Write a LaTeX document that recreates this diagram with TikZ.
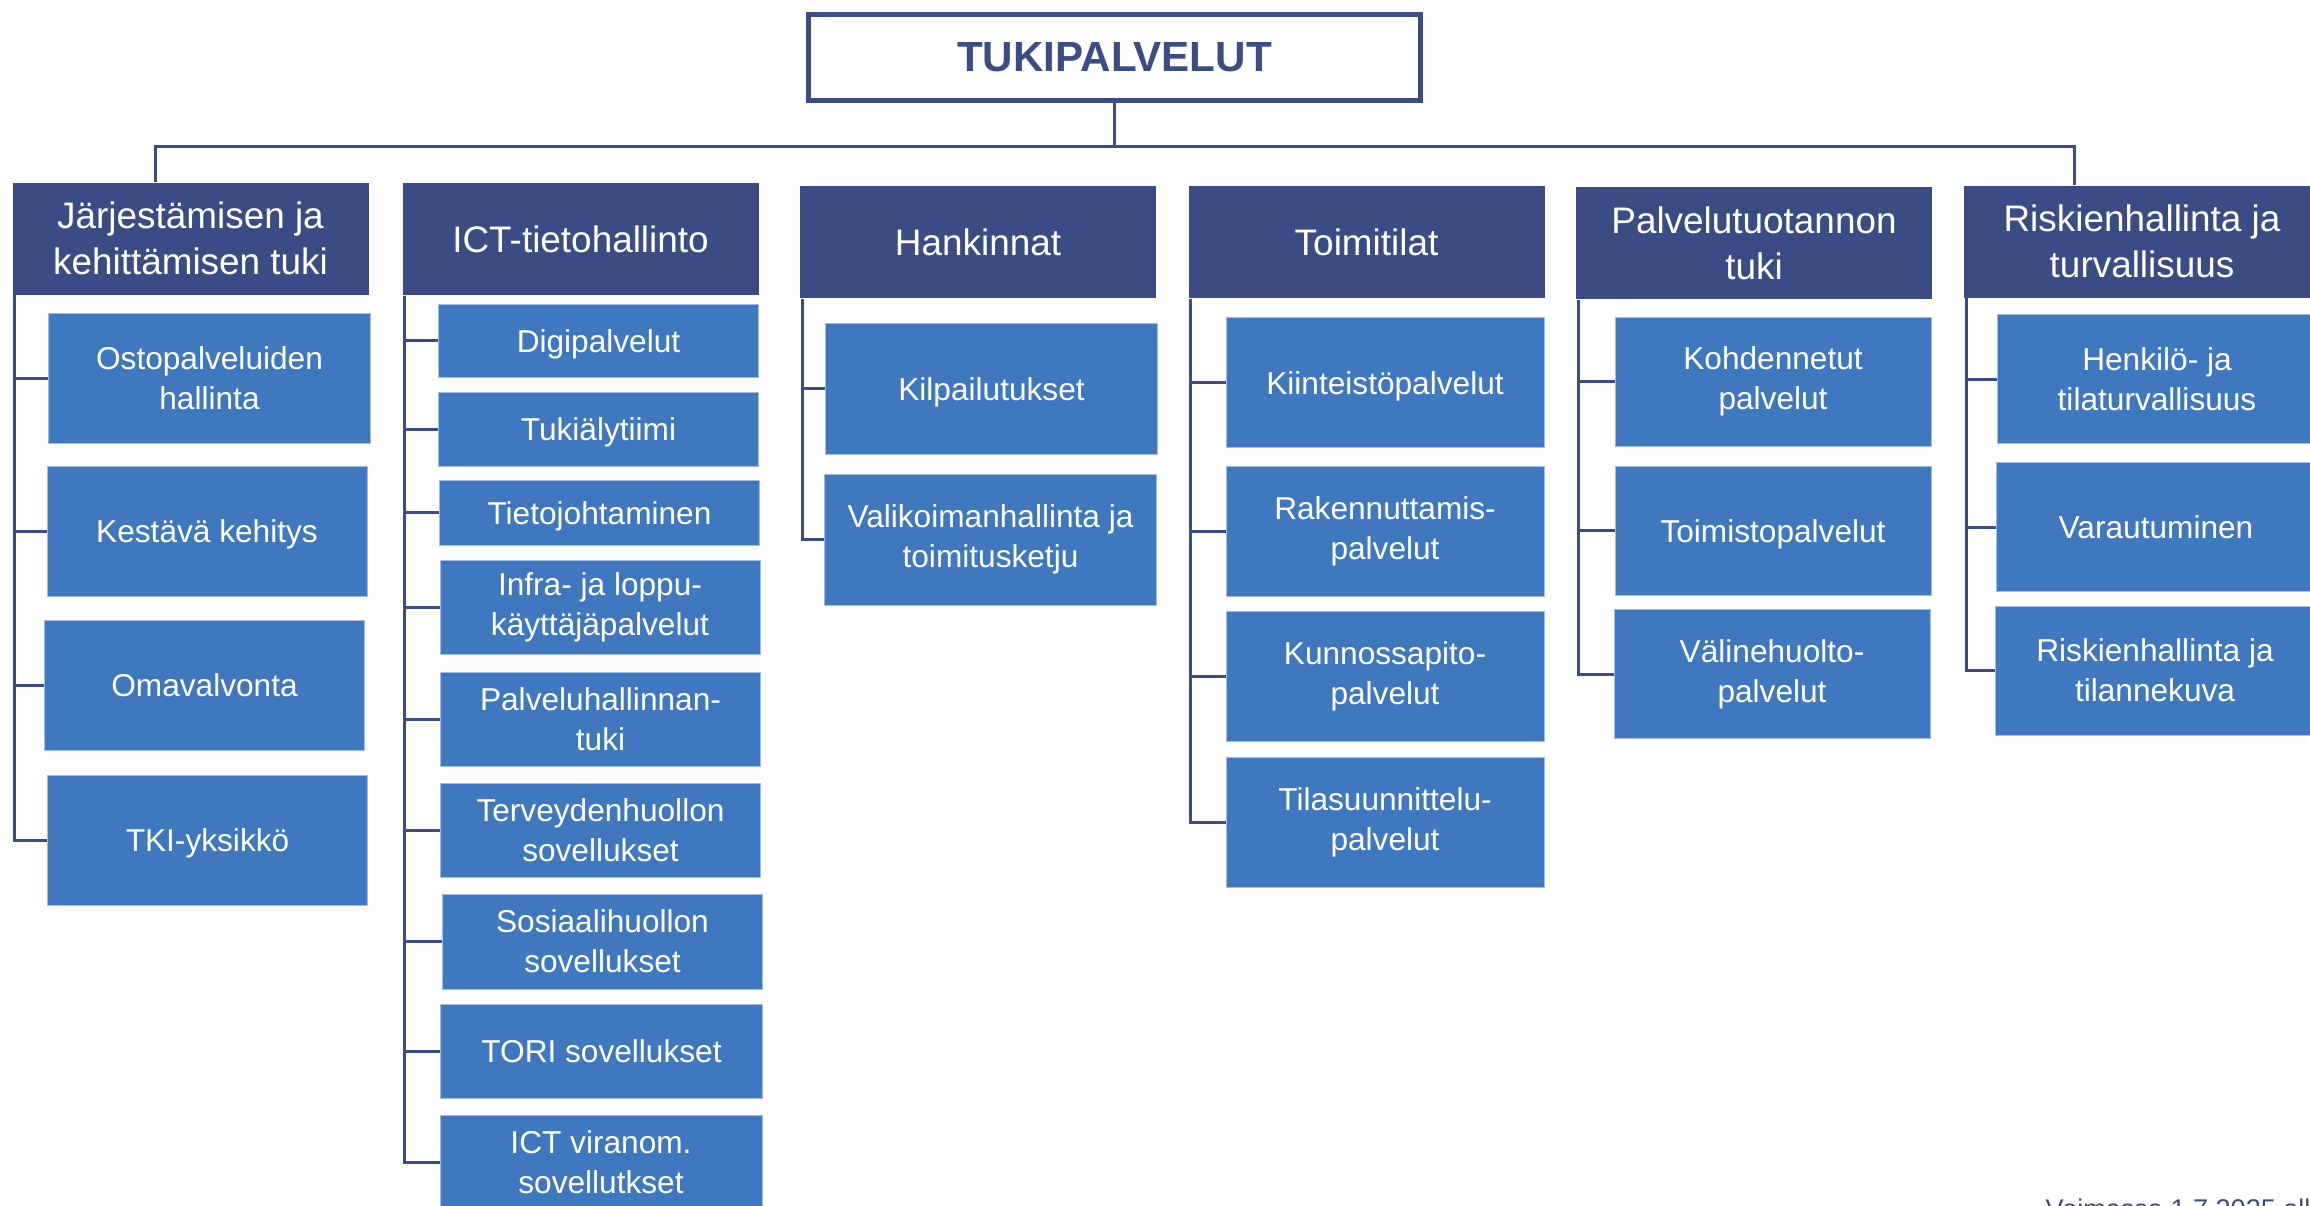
\documentclass[tikz,border=0pt]{standalone}
\usepackage{fontspec}
\setmainfont{Liberation Sans}
\usepackage{tikz}
\usetikzlibrary{calc}
\definecolor{hdrblue}{RGB}{59,75,132}
\definecolor{boxblue}{RGB}{63,120,190}
\definecolor{boxedge}{RGB}{160,188,226}
\definecolor{linecol}{RGB}{59,76,134}

\begin{document}
\begin{tikzpicture}[x=0.1mm, y=-0.1mm,
  conn/.style={draw=linecol, line width=0.3mm},
  topbox/.style={draw=linecol, line width=0.45mm, fill=white, text=linecol, inner sep=0pt,
    minimum width=61.2mm, minimum height=8.6mm, font=\bfseries\fontsize{12}{14}\selectfont},
  hdr/.style={fill=hdrblue, text=white, inner sep=0pt, align=center,
    minimum width=35.6mm, minimum height=11.2mm, font=\fontsize{10.5}{13}\selectfont},
  sub/.style={fill=boxblue, draw=boxedge, line width=0.2pt, text=white, inner sep=0pt, align=center,
    minimum width=32mm, minimum height=13mm, font=\fontsize{9}{11.3}\selectfont},
  oneline/.style={text height=8.6pt, text depth=2pt}]
\useasboundingbox (0,0) rectangle (2310,1205);
\clip (0,0) rectangle (2310,1205);

\node[topbox] (top) at (1114.5,57.5) {TUKIPALVELUT};

% first level
\node[hdr] (h1) at (190.5,238.5) {Järjestämisen ja\\kehittämisen tuki};
\node[hdr] (h2) at (580.5,239) {ICT-tietohallinto};
\node[hdr] (h3) at (978,242) {Hankinnat};
\node[hdr] (h4) at (1366.5,242) {Toimitilat};
\node[hdr] (h5) at (1754,243) {Palvelutuotannon\\tuki};
\node[hdr] (h6) at (2142,241.5) {Riskienhallinta ja\\turvallisuus};

\coordinate (barL) at (155,146);
\coordinate (barR) at (2074,146);
\draw[conn] (top.south) -- (top.south |- barL);
\draw[conn] (h1.north -| barL) -- (barL) -- (barR) -- (h6.north -| barR);

% column 1
\node[sub, minimum width=32.2mm] (c1a) at (209.5,378.5) {Ostopalveluiden\\hallinta};
\node[sub, oneline] (c1b) at (207,531) {Kestävä kehitys};
\node[sub, oneline] (c1c) at (204.5,685) {Omavalvonta};
\node[sub, oneline] (c1d) at (207.5,840) {TKI-yksikkö};

% column 2
\node[sub, oneline, minimum height=7.3mm] (c2a) at (598.5,340.5) {Digipalvelut};
\node[sub, oneline, minimum height=7.4mm] (c2b) at (598.5,429) {Tukiälytiimi};
\node[sub, oneline, minimum height=6.5mm] (c2c) at (599.5,512.5) {Tietojohtaminen};
\node[sub, minimum height=9.4mm] (c2d) at (600,607.5) {Infra- ja loppu-\\käyttäjäpalvelut};
\node[sub, minimum height=9.4mm] (c2e) at (600.5,719) {Palveluhallinnan-\\tuki};
\node[sub, minimum height=9.4mm] (c2f) at (600.5,830.5) {Terveydenhuollon\\sovellukset};
\node[sub, minimum height=9.5mm] (c2g) at (602.5,941.5) {Sosiaalihuollon\\sovellukset};
\node[sub, oneline, minimum height=9.4mm, minimum width=32.2mm] (c2h) at (601.5,1051) {TORI sovellukset};
\node[sub, minimum height=9.4mm, minimum width=32.2mm] (c2i) at (601,1162) {ICT viranom.\\sovellutkset};

% column 3
\node[sub, oneline, minimum width=33.2mm, minimum height=13.1mm] (c3a) at (991.5,388.5) {Kilpailutukset};
\node[sub, minimum width=33.2mm, minimum height=13.1mm] (c3b) at (990.5,539.5) {Valikoimanhallinta ja\\toimitusketju};

% column 4
\node[sub, oneline, minimum width=31.8mm] (c4a) at (1385,382.5) {Kiinteistöpalvelut};
\node[sub, minimum width=31.8mm] (c4b) at (1385,531) {Rakennuttamis-\\palvelut};
\node[sub, minimum width=31.8mm] (c4c) at (1385,676) {Kunnossapito-\\palvelut};
\node[sub, minimum width=31.8mm] (c4d) at (1385,822) {Tilasuunnittelu-\\palvelut};

% column 5
\node[sub, minimum width=31.6mm, minimum height=12.9mm] (c5a) at (1773,381.5) {Kohdennetut\\palvelut};
\node[sub, oneline, minimum width=31.6mm, minimum height=12.9mm] (c5b) at (1773,530.5) {Toimistopalvelut};
\node[sub, minimum width=31.6mm, minimum height=12.9mm] (c5c) at (1772,674) {Välinehuolto-\\palvelut};

% column 6
\node[sub, minimum height=12.9mm] (c6a) at (2157,379) {Henkilö- ja\\tilaturvallisuus};
\node[sub, oneline, minimum height=12.9mm] (c6b) at (2156,527) {Varautuminen};
\node[sub, minimum height=12.9mm] (c6c) at (2155,670.5) {Riskienhallinta ja\\tilannekuva};

% spines
\foreach \h/\kids in {h1/{c1a,c1b,c1c,c1d},
                      h2/{c2a,c2b,c2c,c2d,c2e,c2f,c2g,c2h,c2i},
                      h3/{c3a,c3b},
                      h4/{c4a,c4b,c4c,c4d},
                      h5/{c5a,c5b,c5c},
                      h6/{c6a,c6b,c6c}}{
  \coordinate (s\h) at ([xshift=0.3mm]\h.south west);
  \foreach \c in \kids
    \draw[conn] (s\h) |- (\c.west);
}

\node[anchor=base west, text=hdrblue, inner sep=0pt, font=\fontsize{7.7}{9}\selectfont] (valid) at (2045,1218) {Voimassa 1.7.2025 alk};
\end{tikzpicture}
\end{document}
